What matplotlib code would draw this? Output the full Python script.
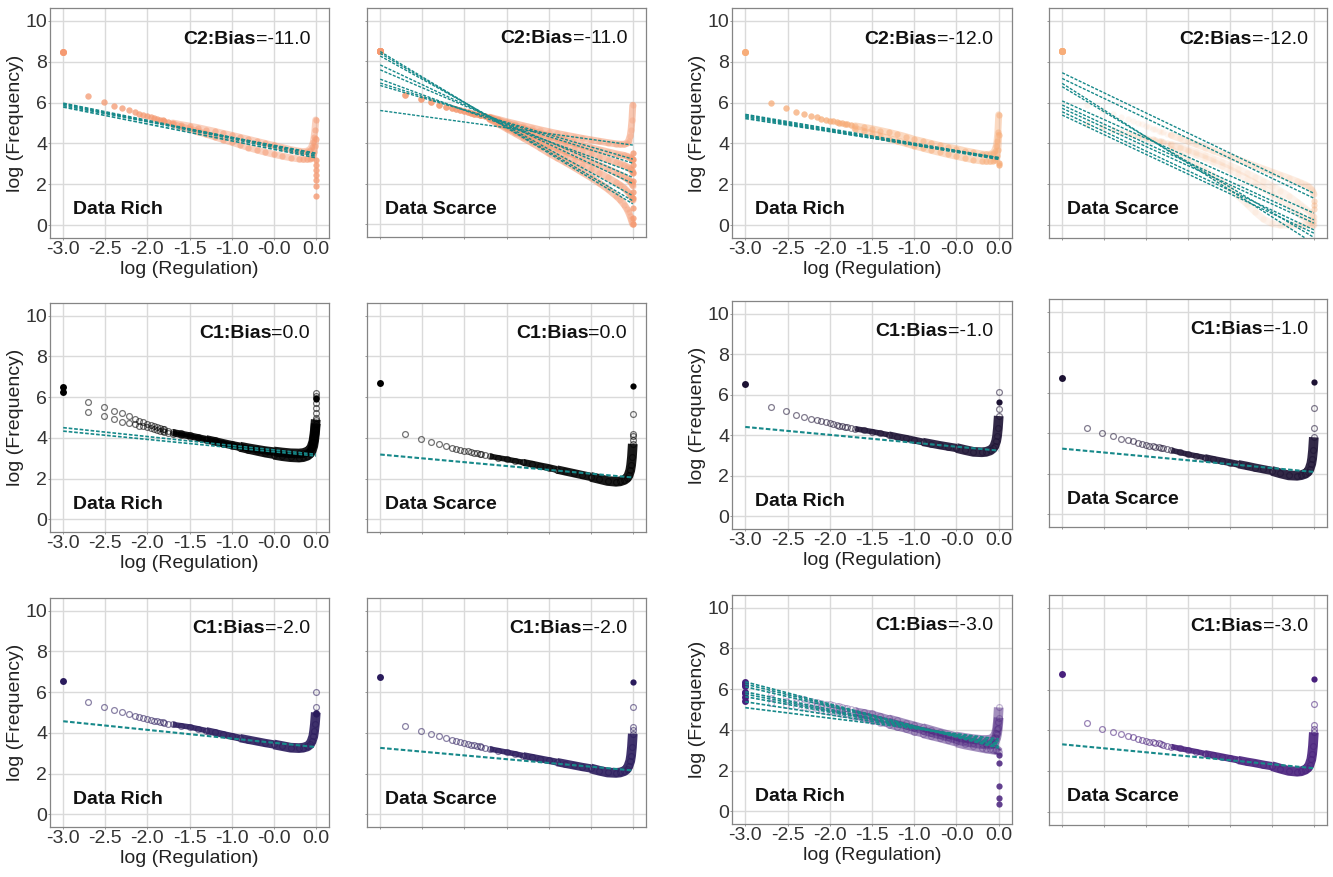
import matplotlib
matplotlib.use("Agg")
import matplotlib.pyplot as plt
from matplotlib.offsetbox import TextArea, HPacker, AnchoredOffsetbox

plt.rcParams["font.family"] = ["Liberation Sans", "DejaVu Sans"]

# rank positions, log scale (sparse head, dense body)
X_HEAD = [-3.0, -2.70, -2.52, -2.40, -2.30, -2.22, -2.15, -2.10, -2.05, -2.00,
          -1.96, -1.92, -1.89, -1.85, -1.82, -1.80, -1.75]
X_BODY = [-1.70, -1.60, -1.50, -1.40, -1.30, -1.20, -1.10, -1.00, -0.90, -0.80,
          -0.70, -0.60, -0.50, -0.40, -0.30, -0.20, -0.15, -0.10, -0.07, -0.05,
          -0.03, -0.02, -0.01, 0.00]

X_TICKS = [-3.0, -2.5, -2.0, -1.5, -1.0, -0.5, 0.0]
X_TICKLABELS = ["-3.0", "-2.5", "-2.0", "-1.5", "-1.0", "-0.0", "0.0"]
Y_TICKS = [0, 2, 4, 6, 8, 10]

# ---- C2 bias -11, data rich
A_HEAD = [8.50, 6.32, 6.04, 5.83, 5.75, 5.63, 5.54, 5.46, 5.39, 5.33, 5.28, 5.24, 5.21, 5.17, 5.13, 5.11, 5.05]
A_HI = [5.00, 4.92, 4.85, 4.77, 4.68, 4.59, 4.49, 4.40, 4.30, 4.20, 4.10, 4.00, 3.90, 3.80, 3.70, 3.62,
        3.60, 3.62, 3.70, 3.82, 4.05, 4.30, 4.65, 5.15]
A_LO = [4.94, 4.82, 4.70, 4.58, 4.45, 4.32, 4.19, 4.06, 3.93, 3.80, 3.68, 3.57, 3.47, 3.38, 3.30, 3.24,
        3.22, 3.22, 3.25, 3.30, 3.45, 3.60, 3.85, 4.20]
A_DROP = [3.20, 2.95, 2.70, 2.46, 2.20, 1.90, 1.45]
A_FIT_START = [5.97, 5.92, 5.85, 5.78]
A_FIT_END = [3.45, 3.38, 3.52, 3.30]

# ---- C2 bias -11, data scarce
B_HEAD = [8.50, 6.35, 6.15, 6.00, 5.85, 5.78, 5.70, 5.65, 5.60, 5.55, 5.51, 5.47, 5.44, 5.41, 5.38, 5.36, 5.31]
B_1 = [5.26, 5.15, 5.04, 4.94, 4.84, 4.74, 4.64, 4.55, 4.46, 4.38, 4.30, 4.22, 4.15, 4.08, 4.01, 3.95,
       3.93, 3.93, 3.98, 4.08, 4.35, 4.65, 5.10, 5.85]
B_2 = [5.24, 5.10, 4.97, 4.84, 4.71, 4.58, 4.46, 4.34, 4.22, 4.10, 3.98, 3.87, 3.76, 3.66, 3.56, 3.46,
       3.42, 3.38, 3.34, 3.31, 3.27, 3.24, 3.21, 3.15]
B_3 = [5.22, 5.05, 4.89, 4.73, 4.58, 4.43, 4.28, 4.14, 4.00, 3.86, 3.72, 3.58, 3.45, 3.32, 3.18, 3.04,
       2.97, 2.89, 2.83, 2.78, 2.72, 2.68, 2.64, 2.55]
B_4 = [5.20, 5.01, 4.82, 4.63, 4.45, 4.27, 4.09, 3.92, 3.75, 3.58, 3.41, 3.24, 3.07, 2.90, 2.72, 2.53,
       2.43, 2.32, 2.24, 2.18, 2.10, 2.05, 2.00, 1.90]
B_5 = [5.18, 4.97, 4.76, 4.55, 4.34, 4.13, 3.93, 3.73, 3.53, 3.33, 3.13, 2.93, 2.73, 2.52, 2.30, 2.05,
       1.92, 1.76, 1.64, 1.55, 1.45, 1.38, 1.30, 1.20]
B_6 = [5.16, 4.93, 4.70, 4.47, 4.24, 4.01, 3.76, 3.50, 3.27, 3.04, 2.80, 2.55, 2.30, 2.03, 1.74, 1.40,
       1.20, 0.95, 0.75, 0.58, 0.38, 0.25, 0.12, 0.00]
B_DROP = [0.0, 0.3, 0.8, 1.3, 1.6, 2.1, 2.5, 2.9, 3.2, 3.5]
B_FIT_START = [8.49, 8.40, 8.27, 7.83, 7.59, 7.13, 6.94, 6.82, 5.59]
B_FIT_END = [1.00, 1.15, 1.40, 2.00, 2.30, 2.55, 3.00, 3.20, 3.89]

# ---- C2 bias -12, data rich
C_HEAD = [8.50, 5.99, 5.72, 5.54, 5.42, 5.34, 5.28, 5.22, 5.17, 5.12, 5.08, 5.05, 5.02, 4.99, 4.96, 4.94, 4.90]
C_HI = [4.86, 4.79, 4.72, 4.63, 4.54, 4.44, 4.33, 4.20, 4.10, 4.00, 3.90, 3.82, 3.74, 3.64, 3.56, 3.48,
        3.46, 3.47, 3.52, 3.62, 3.85, 4.10, 4.55, 5.40]
C_LO = [4.72, 4.60, 4.48, 4.36, 4.24, 4.12, 4.00, 3.88, 3.77, 3.66, 3.56, 3.46, 3.37, 3.28, 3.20, 3.14,
        3.12, 3.12, 3.14, 3.18, 3.28, 3.40, 3.70, 4.40]
C_DROP = [3.05, 2.95]
C_FIT_START = [5.42, 5.36, 5.30, 5.22]
C_FIT_END = [3.30, 3.26, 3.22, 3.30]

# ---- C2 bias -12, data scarce
D_HEAD_1 = [8.52, 5.90, 5.63, 5.45, 5.30, 5.18, 5.08, 5.00, 4.93, 4.85, 4.79, 4.73, 4.69, 4.63, 4.58, 4.55, 4.48]
D_HEAD_2 = [8.52, 4.95, 4.80, 4.68, 4.58, 4.50, 4.43, 4.38, 4.33, 4.28, 4.24, 4.20, 4.17, 4.13, 4.10, 4.08, 4.02]
D_1 = [4.40, 4.25, 4.10, 3.95, 3.80, 3.65, 3.50, 3.35, 3.20, 3.05, 2.90, 2.75, 2.60, 2.45, 2.30, 2.14,
       2.06, 1.97, 1.90, 1.84, 1.76, 1.70, 1.62, 1.50]
D_2 = [3.96, 3.84, 3.70, 3.56, 3.41, 3.25, 3.09, 2.92, 2.74, 2.55, 2.35, 2.14, 1.92, 1.68, 1.42, 1.12,
       0.96, 0.80, 0.70, 0.62, 0.55, 0.50, 0.45, 0.40]
D_3 = [3.90, 3.76, 3.61, 3.45, 3.28, 3.10, 2.91, 2.71, 2.50, 2.28, 2.05, 1.80, 1.54, 1.26, 0.96, 0.62,
       0.45, 0.30, 0.24, 0.21, 0.20, 0.20, 0.20, 0.20]
D_4 = [3.70, 3.45, 3.20, 2.95, 2.68, 2.40, 2.10, 1.78, 1.42, 1.05, 0.65, 0.30, 0.08, 0.00, 0.00, 0.00,
       0.00, 0.00, 0.00, 0.00, 0.00, 0.00, 0.00, 0.00]
D_DROP = [1.20, 1.00, 0.80]
D_FIT_START = [7.46, 7.18, 6.94, 6.78, 6.08, 5.88, 5.72, 5.55, 5.39]
D_FIT_END = [1.56, 1.32, -0.90, -0.60, 0.59, 0.26, 0.10, -0.23, -0.39]

# ---- C1 bias 0, data rich
E_HEAD_HI = [6.50, 5.75, 5.50, 5.34, 5.20, 5.07, 4.95, 4.85, 4.77, 4.69, 4.63, 4.58, 4.54, 4.49, 4.45, 4.42, 4.36]
E_HI = [4.30, 4.22, 4.14, 4.05, 3.96, 3.87, 3.77, 3.68, 3.60, 3.52, 3.45, 3.38, 3.33, 3.28, 3.24, 3.23,
        3.25, 3.32, 3.42, 3.55, 3.80, 4.05, 4.40, 4.90]
E_HEAD_LO = [6.25, 5.28, 5.07, 4.92, 4.80, 4.72, 4.66, 4.59, 4.56, 4.51, 4.47, 4.43, 4.40, 4.36, 4.33, 4.31, 4.26]
E_LO = [4.21, 4.13, 4.06, 3.98, 3.89, 3.80, 3.70, 3.61, 3.52, 3.42, 3.33, 3.24, 3.17, 3.10, 3.05, 3.03,
        3.05, 3.12, 3.22, 3.35, 3.60, 3.85, 4.20, 4.70]
E_TAIL = [5.00, 5.20, 5.45, 5.70, 6.05, 6.20]
E_TOP = [5.95, 5.90]
E_FIT_START = [4.50, 4.33]
E_FIT_END = [3.19, 3.11]

# ---- C1 bias 0, data scarce
F_HEAD = [6.69, 4.20, 3.96, 3.81, 3.71, 3.60, 3.52, 3.47, 3.42, 3.37, 3.33, 3.30, 3.27, 3.24, 3.21, 3.19, 3.14]
F_BODY = [3.10, 3.02, 2.95, 2.87, 2.79, 2.71, 2.62, 2.54, 2.44, 2.35, 2.26, 2.17, 2.08, 1.98, 1.88, 1.84,
          1.86, 1.93, 2.02, 2.15, 2.40, 2.65, 3.05, 3.70]
F_TAIL = [3.90, 4.10, 4.17, 5.15]
F_TOP = [6.53]
F_FIT_START = [3.18]
F_FIT_END = [2.05]

# ---- C1 bias -1, data rich
G_HEAD = [6.54, 5.39, 5.18, 5.02, 4.90, 4.82, 4.74, 4.69, 4.64, 4.59, 4.55, 4.51, 4.48, 4.45, 4.42, 4.40, 4.36]
G_BODY = [4.32, 4.25, 4.18, 4.10, 4.02, 3.93, 3.85, 3.76, 3.67, 3.59, 3.51, 3.44, 3.37, 3.27, 3.18, 3.16,
          3.18, 3.25, 3.35, 3.48, 3.72, 3.95, 4.35, 4.95]
G_TAIL = [5.28, 6.14]
G_TOP = [5.65]
G_FIT_START = [4.41]
G_FIT_END = [3.24]

# ---- C1 bias -1, data scarce
H_HEAD = [6.74, 4.26, 4.03, 3.87, 3.73, 3.67, 3.60, 3.54, 3.49, 3.42, 3.39, 3.36, 3.33, 3.30, 3.27, 3.25, 3.20]
H_BODY = [3.16, 3.06, 2.96, 2.88, 2.80, 2.71, 2.63, 2.55, 2.47, 2.39, 2.30, 2.22, 2.14, 2.02, 1.92, 1.90,
          1.93, 2.00, 2.10, 2.25, 2.50, 2.75, 3.15, 3.80]
H_TAIL = [4.24, 5.23]
H_TOP = [6.55]
H_FIT_START = [3.24]
H_FIT_END = [2.09]

# ---- C1 bias -2, data rich
I_HEAD = [6.53, 5.50, 5.27, 5.12, 5.01, 4.93, 4.85, 4.78, 4.73, 4.68, 4.64, 4.60, 4.57, 4.54, 4.51, 4.49, 4.45]
I_BODY = [4.41, 4.35, 4.29, 4.20, 4.11, 4.02, 3.92, 3.83, 3.74, 3.66, 3.58, 3.50, 3.43, 3.35, 3.27, 3.25,
          3.27, 3.33, 3.43, 3.58, 3.82, 4.08, 4.45, 5.00]
I_TAIL = [5.25, 5.99]
I_TOP = [5.00, 4.95]
I_FIT_START = [4.57]
I_FIT_END = [3.30]

# ---- C1 bias -2, data scarce
J_HEAD = [6.74, 4.32, 4.08, 3.93, 3.82, 3.74, 3.65, 3.61, 3.54, 3.49, 3.45, 3.42, 3.39, 3.36, 3.33, 3.31, 3.26]
J_BODY = [3.21, 3.13, 3.05, 2.97, 2.88, 2.80, 2.72, 2.64, 2.56, 2.48, 2.40, 2.32, 2.25, 2.14, 2.05, 2.03,
          2.05, 2.12, 2.22, 2.38, 2.62, 2.88, 3.30, 3.95]
J_TAIL = [4.16, 4.29, 5.27]
J_TOP = [6.51]
J_FIT_START = [3.26]
J_FIT_END = [2.15]

# ---- C1 bias -3, data rich
K_HEAD_HI = [6.36, 5.76, 5.63, 5.55, 5.50, 5.43, 5.37, 5.33, 5.29, 5.25, 5.21, 5.18, 5.15, 5.12, 5.09, 5.07, 5.02]
K_HI = [4.97, 4.89, 4.81, 4.70, 4.58, 4.47, 4.35, 4.24, 4.12, 4.00, 3.88, 3.77, 3.67, 3.60, 3.54, 3.50,
        3.50, 3.52, 3.58, 3.66, 3.85, 4.05, 4.40, 5.10]
K_HEAD_MID = [5.87, 5.55, 5.44, 5.36, 5.30, 5.25, 5.20, 5.16, 5.12, 5.09, 5.06, 5.03, 5.00, 4.97, 4.95, 4.93, 4.88]
K_MID = [4.83, 4.73, 4.62, 4.52, 4.41, 4.30, 4.19, 4.07, 3.96, 3.85, 3.74, 3.63, 3.52, 3.43, 3.36, 3.30,
         3.28, 3.28, 3.32, 3.40, 3.60, 3.80, 4.10, 4.60]
K_HEAD_LO = [5.43, 5.30, 5.22, 5.15, 5.10, 5.05, 5.01, 4.97, 4.94, 4.91, 4.88, 4.85, 4.83, 4.80, 4.78, 4.76, 4.70]
K_LO = [4.65, 4.55, 4.44, 4.34, 4.24, 4.13, 4.03, 3.90, 3.80, 3.70, 3.60, 3.49, 3.38, 3.28, 3.20, 3.12,
        3.08, 3.05, 3.03, 3.02, 3.00, 2.98, 2.95, 2.90]
K_START = [6.25, 6.15, 5.79, 5.60]
K_DROP = [2.77, 2.37, 1.22, 0.65, 0.33]
K_FIT_START = [6.36, 6.25, 6.12, 5.87, 5.76, 5.63, 5.38, 5.09]
K_FIT_END = [3.10, 3.15, 3.20, 3.28, 3.30, 3.35, 3.45, 3.55]

# ---- C1 bias -3, data scarce
L_HEAD = [6.77, 4.34, 4.09, 3.92, 3.81, 3.73, 3.66, 3.60, 3.55, 3.48, 3.45, 3.42, 3.39, 3.36, 3.33, 3.31, 3.26]
L_BODY = [3.21, 3.12, 3.04, 2.96, 2.87, 2.79, 2.71, 2.63, 2.55, 2.47, 2.40, 2.32, 2.25, 2.13, 2.02, 1.98,
          2.00, 2.08, 2.18, 2.33, 2.58, 2.85, 3.25, 3.90]
L_TAIL = [4.06, 4.29, 5.27]
L_TOP = [6.50]
L_FIT_START = [3.32]
L_FIT_END = [2.15]

ORANGE_11 = "#f59a72"
ORANGE_12 = "#f7ad79"
TEAL = "#17898a"
PURPLE = {"0.0": "#000000", "-1.0": "#1c1233", "-2.0": "#2a1b5c", "-3.0": "#48207c"}

FS = 14
W, H = 1333, 877
fig = plt.figure(figsize=(W / 100, H / 100), dpi=100)


def make_axes(box, rich):
    l, t, r, b = box
    ax = fig.add_axes([l / W, 1 - b / H, (r - l) / W, (b - t) / H])
    ax.set_xlim(-3.157, 0.157)
    ax.set_ylim(-0.63, 10.63)
    ax.set_xticks(X_TICKS)
    ax.set_yticks(Y_TICKS)
    ax.grid(True, color="#dadada", lw=1.0)
    ax.set_axisbelow(True)
    for s in ax.spines.values():
        s.set_color("#858585")
        s.set_linewidth(0.9)
    ax.tick_params(length=1.5, width=0.7, color="#9a9a9a", labelsize=FS,
                   labelcolor="#333333", pad=0.5)
    if rich:
        ax.set_xticklabels(X_TICKLABELS)
        ax.set_xlabel("log (Regulation)", fontsize=FS, color="#222222", labelpad=2)
        ax.set_ylabel("log (Frequency)", fontsize=FS, color="#222222", labelpad=1)
    else:
        ax.set_xticklabels([])
        ax.set_yticklabels([])
    return ax


def label(ax, tag, bias, rich):
    box = HPacker(children=[
        TextArea(tag + ":Bias", textprops=dict(fontsize=FS, fontweight="bold", color="#111111")),
        TextArea("=" + bias, textprops=dict(fontsize=FS, color="#111111")),
    ], pad=0, sep=0, align="baseline")
    ab = AnchoredOffsetbox(loc="center right", child=box, frameon=False, pad=0, borderpad=0,
                           bbox_to_anchor=(0.932, 0.865), bbox_transform=ax.transAxes)
    ax.add_artist(ab)
    ax.text(0.082 if rich else 0.065, 0.122, "Data Rich" if rich else "Data Scarce",
            transform=ax.transAxes, fontsize=FS, fontweight="bold", color="#111111",
            ha="left", va="center")


def fits(ax, starts, ends, lw=1.2):
    for s, e in zip(starts, ends):
        ax.plot([X_HEAD[0], X_BODY[-1]], [s, e], ls=(0, (2.2, 1.1)), color=TEAL, lw=lw, zorder=5)


def orange_curve(ax, head, body, color, pt_alpha, band_alpha, lw=5):
    ax.plot(X_HEAD[1:] + X_BODY, head[1:] + body, "o", ms=4.5, mew=0, color=color, alpha=pt_alpha, zorder=3)
    ax.plot(X_BODY, body, "-", lw=lw, color=color, alpha=band_alpha, solid_capstyle="round", zorder=3)
    ax.plot(X_HEAD[0], head[0], "o", ms=5, mew=0, color=color, zorder=4)


def open_curve(ax, head, body, color, ring_alpha=0.55, band_alpha=0.9):
    ax.plot(X_HEAD[1:] + X_BODY, head[1:] + body, "o", ms=4.2, mfc="none", mec=color, mew=0.9,
            alpha=ring_alpha, zorder=3)
    # band thickens gradually as the points pile up toward the right
    for i0, i1, lw in [(0, 5, 4.0), (4, 9, 5.0), (8, 13, 6.0), (12, 24, 7.0)]:
        ax.plot(X_BODY[i0:i1], body[i0:i1], "-", lw=lw, color=color, alpha=band_alpha,
                solid_capstyle="butt", solid_joinstyle="round", zorder=3)
    ax.plot(X_HEAD[0], head[0], "o", ms=5, mew=0, color=color, zorder=4)


def column(ax, vals, color, filled, alpha=1.0):
    xs = [X_BODY[-1]] * len(vals)
    if filled:
        ax.plot(xs, vals, "o", ms=4.5, mew=0, color=color, alpha=alpha, zorder=4)
    else:
        ax.plot(xs, vals, "o", ms=4.2, mfc="none", mec=color, mew=0.9, alpha=0.55, zorder=4)


# row 1: C2 panels
ax = make_axes((50, 8, 329, 238), True)
orange_curve(ax, A_HEAD, A_HI, ORANGE_11, 0.5, 0.45)
orange_curve(ax, A_HEAD, A_LO, ORANGE_11, 0.5, 0.45)
column(ax, A_DROP, ORANGE_11, True, 0.8)
fits(ax, A_FIT_START, A_FIT_END)
label(ax, "C2", "-11.0", True)

ax = make_axes((367, 8, 646, 237), False)
for body in [B_1, B_2, B_3, B_4, B_5, B_6]:
    orange_curve(ax, B_HEAD, body, ORANGE_11, 0.3, 0.55)
column(ax, B_DROP, ORANGE_11, True, 0.8)
fits(ax, B_FIT_START, B_FIT_END, lw=1.0)
label(ax, "C2", "-11.0", False)

ax = make_axes((732, 8, 1012, 238), True)
orange_curve(ax, C_HEAD, C_HI, ORANGE_12, 0.5, 0.45)
orange_curve(ax, C_HEAD, C_LO, ORANGE_12, 0.5, 0.45)
column(ax, C_DROP, ORANGE_12, True, 0.8)
fits(ax, C_FIT_START, C_FIT_END)
label(ax, "C2", "-12.0", True)

ax = make_axes((1049, 8, 1327, 238), False)
orange_curve(ax, D_HEAD_1, D_1, ORANGE_12, 0.1, 0.22)
for body in [D_2, D_3, D_4]:
    orange_curve(ax, D_HEAD_2, body, ORANGE_12, 0.08, 0.15)
column(ax, D_DROP, ORANGE_12, True, 0.4)
fits(ax, D_FIT_START, D_FIT_END, lw=1.0)
label(ax, "C2", "-12.0", False)

# row 2: C1 bias 0 and -1
ax = make_axes((50, 303, 329, 532), True)
c = PURPLE["0.0"]
open_curve(ax, E_HEAD_HI, E_HI, c)
open_curve(ax, E_HEAD_LO, E_LO, c)
column(ax, E_TAIL, c, False)
column(ax, E_TOP, c, True)
fits(ax, E_FIT_START, E_FIT_END)
label(ax, "C1", "0.0", True)

ax = make_axes((367, 303, 646, 532), False)
open_curve(ax, F_HEAD, F_BODY, c)
column(ax, F_TAIL, c, False)
column(ax, F_TOP, c, True)
fits(ax, F_FIT_START, F_FIT_END, lw=1.5)
label(ax, "C1", "0.0", False)

c = PURPLE["-1.0"]
ax = make_axes((732, 301, 1012, 529), True)
open_curve(ax, G_HEAD, G_BODY, c)
column(ax, G_TAIL, c, False)
column(ax, G_TOP, c, True)
fits(ax, G_FIT_START, G_FIT_END, lw=1.5)
label(ax, "C1", "-1.0", True)

ax = make_axes((1049, 299, 1327, 527), False)
open_curve(ax, H_HEAD, H_BODY, c)
column(ax, H_TAIL, c, False)
column(ax, H_TOP, c, True)
fits(ax, H_FIT_START, H_FIT_END, lw=1.5)
label(ax, "C1", "-1.0", False)

# row 3: C1 bias -2 and -3
c = PURPLE["-2.0"]
ax = make_axes((50, 598, 329, 827), True)
open_curve(ax, I_HEAD, I_BODY, c)
column(ax, I_TAIL, c, False)
column(ax, I_TOP, c, True)
fits(ax, I_FIT_START, I_FIT_END, lw=1.5)
label(ax, "C1", "-2.0", True)

ax = make_axes((367, 598, 646, 827), False)
open_curve(ax, J_HEAD, J_BODY, c)
column(ax, J_TAIL, c, False)
column(ax, J_TOP, c, True)
fits(ax, J_FIT_START, J_FIT_END, lw=1.5)
label(ax, "C1", "-2.0", False)

c = PURPLE["-3.0"]
ax = make_axes((732, 595, 1012, 824), True)
for head, body in [(K_HEAD_HI, K_HI), (K_HEAD_MID, K_MID), (K_HEAD_LO, K_LO)]:
    open_curve(ax, head, body, c, ring_alpha=0.3, band_alpha=0.5)
ax.plot([X_HEAD[0]] * len(K_START), K_START, "o", ms=5, mew=0, color=c, zorder=4)
column(ax, K_DROP, c, True, 0.85)
fits(ax, K_FIT_START, K_FIT_END)
label(ax, "C1", "-3.0", True)

ax = make_axes((1049, 595, 1327, 825), False)
open_curve(ax, L_HEAD, L_BODY, c)
column(ax, L_TAIL, c, False)
column(ax, L_TOP, c, True)
fits(ax, L_FIT_START, L_FIT_END, lw=1.5)
label(ax, "C1", "-3.0", False)

fig.savefig("out.png", dpi=100, facecolor="white")
